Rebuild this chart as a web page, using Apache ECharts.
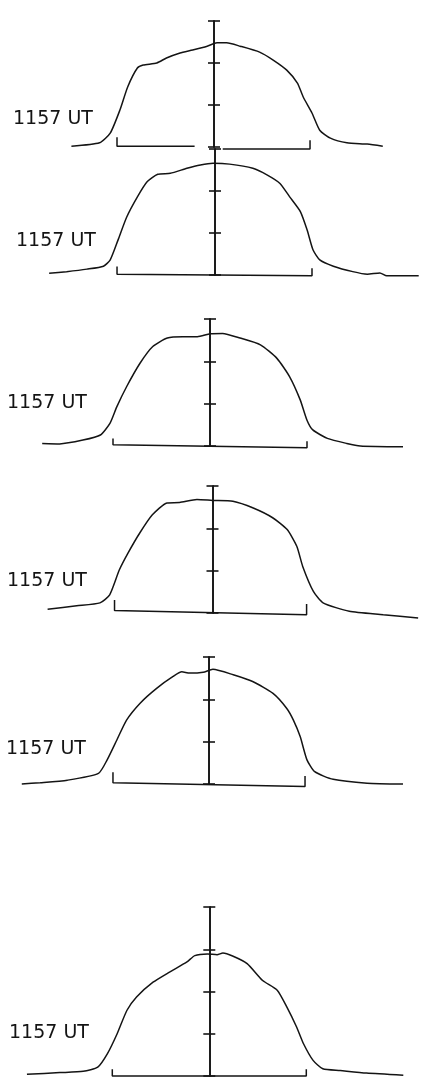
<!DOCTYPE html>
<html>
<head>
<meta charset="utf-8">
<script src="https://cdn.jsdelivr.net/npm/echarts@6/dist/echarts.min.js"></script>
<style>
	html, body { margin: 0; padding: 0; background: #fff; }
	#chart { width: 431px; height: 1077px; }
</style>
</head>
<body>
<div id="chart"></div>
<script>
// label text of every trace
const traceLabel = '1157 UT'

// x: distance from the centre line (bracket half width = 1), y: tick units above the bracket
const profile1 = [[-1.47, 0.02], [-1.18, 0.10], [-1.07, 0.33], [-0.97, 0.88], [-0.89, 1.43], [-0.79, 1.88], [-0.73, 1.95], [-0.59, 2.00], [-0.49, 2.12], [-0.35, 2.24], [-0.22, 2.31], [-0.07, 2.40], [0.03, 2.48], [0.13, 2.48], [0.27, 2.40], [0.47, 2.26], [0.61, 2.07], [0.75, 1.83], [0.86, 1.52], [0.92, 1.19], [1.01, 0.81], [1.09, 0.40], [1.20, 0.21], [1.37, 0.10], [1.58, 0.07], [1.74, 0.02]]
const profile2 = [[-1.71, 0.04], [-1.53, 0.08], [-1.32, 0.14], [-1.15, 0.21], [-1.08, 0.36], [-1.00, 0.83], [-0.91, 1.38], [-0.80, 1.86], [-0.70, 2.22], [-0.59, 2.40], [-0.46, 2.42], [-0.29, 2.54], [-0.15, 2.62], [-0.02, 2.66], [0.15, 2.64], [0.39, 2.54], [0.54, 2.38], [0.67, 2.18], [0.77, 1.86], [0.88, 1.51], [0.95, 1.07], [1.01, 0.60], [1.08, 0.36], [1.22, 0.21], [1.42, 0.08], [1.57, 0.02], [1.70, 0.05], [1.77, -0.02], [2.10, -0.02]]
const profile3 = [[-1.73, 0.06], [-1.55, 0.05], [-1.31, 0.14], [-1.13, 0.26], [-1.03, 0.54], [-0.96, 0.93], [-0.86, 1.40], [-0.72, 1.96], [-0.59, 2.35], [-0.44, 2.55], [-0.28, 2.58], [-0.13, 2.58], [0.00, 2.65], [0.13, 2.66], [0.31, 2.55], [0.52, 2.39], [0.69, 2.07], [0.82, 1.64], [0.93, 1.09], [1.00, 0.61], [1.06, 0.38], [1.21, 0.18], [1.41, 0.06], [1.55, 0.00], [1.99, -0.02]]
const profile4 = [[-1.70, 0.09], [-1.40, 0.17], [-1.16, 0.24], [-1.06, 0.43], [-0.96, 1.02], [-0.87, 1.42], [-0.75, 1.89], [-0.62, 2.32], [-0.47, 2.60], [-0.34, 2.61], [-0.16, 2.68], [0.00, 2.66], [0.21, 2.64], [0.42, 2.48], [0.62, 2.25], [0.77, 1.97], [0.87, 1.57], [0.93, 1.10], [1.04, 0.51], [1.14, 0.24], [1.41, 0.04], [1.76, -0.04], [2.12, -0.12]]
const profile5 = [[-1.93, 0.00], [-1.74, 0.03], [-1.46, 0.09], [-1.14, 0.25], [-1.05, 0.57], [-0.95, 1.04], [-0.85, 1.51], [-0.71, 1.91], [-0.54, 2.26], [-0.37, 2.54], [-0.28, 2.65], [-0.20, 2.62], [-0.06, 2.64], [0.04, 2.71], [0.25, 2.58], [0.45, 2.42], [0.66, 2.14], [0.80, 1.79], [0.87, 1.51], [0.94, 1.12], [1.01, 0.57], [1.09, 0.29], [1.28, 0.11], [1.63, 0.02], [2.00, 0.00]]
const profile6 = [[-1.88, 0.04], [-1.54, 0.08], [-1.30, 0.11], [-1.15, 0.21], [-1.05, 0.53], [-0.95, 1.00], [-0.85, 1.55], [-0.75, 1.87], [-0.58, 2.22], [-0.41, 2.46], [-0.23, 2.70], [-0.15, 2.85], [-0.02, 2.89], [0.08, 2.87], [0.14, 2.91], [0.24, 2.84], [0.39, 2.66], [0.55, 2.26], [0.70, 2.03], [0.80, 1.63], [0.90, 1.16], [0.97, 0.77], [1.07, 0.37], [1.17, 0.17], [1.35, 0.13], [1.62, 0.07], [2.00, 0.02]]
const profiles = [profile1, profile2, profile3, profile4, profile5, profile6]

// bracket under each trace
const bracketLeft = [-1.00, -1.01, -1.00, -1.01, -0.99, -1.00]
const bracketRight = [0.99, 1.00, 1.00, 0.97, 0.99, 1.00]
const bracketLeftY = [0.02, 0.02, 0.03, 0.06, 0.03, 0.00]
const bracketRightY = [-0.05, -0.02, -0.04, -0.04, -0.06, 0.00]
const bracketCap = [0.21, 0.18, 0.15, 0.25, 0.25, 0.16]
const bracketGap = [[-0.20, 0.09], null, null, null, null, null]

// top of the centre scale (ticks every unit)
const scaleTop = [3, 3, 3, 3, 3, 4]

// page layout of the panels (pixels)
const layout = [
	{ axisX: 214, top: 21, bottom: 147, labelX: 13, labelY: 119 },
	{ axisX: 215, top: 149, bottom: 275, labelX: 16, labelY: 241 },
	{ axisX: 210, top: 319, bottom: 446, labelX: 7, labelY: 403 },
	{ axisX: 212.5, top: 486, bottom: 613, labelX: 7, labelY: 581 },
	{ axisX: 209, top: 657, bottom: 784, labelX: 6, labelY: 749 },
	{ axisX: 209.3, top: 907, bottom: 1076, labelX: 9, labelY: 1033 }
]
const xMin = -2.1
const xMax = 2.2
const pxPerX = 97
const ink = '#141414'

const chart = echarts.init(document.getElementById('chart'))

const grids = []
const xAxes = []
const yAxes = []
const series = []
const texts = []

layout.forEach((p, i) => {
	grids.push({
		left: p.axisX + xMin * pxPerX,
		top: p.top,
		width: (xMax - xMin) * pxPerX,
		height: p.bottom - p.top
	})
	xAxes.push({ gridIndex: i, type: 'value', min: xMin, max: xMax, show: false })

	// two axes on the same line so the ticks cross it
	;['left', 'right'].forEach(pos => {
		yAxes.push({
			gridIndex: i,
			type: 'value',
			position: pos,
			min: 0,
			max: scaleTop[i],
			interval: 1,
			axisLine: { show: true, onZero: true, onZeroAxisIndex: i, lineStyle: { color: ink, width: 1.6 } },
			axisTick: { show: true, length: 6, lineStyle: { color: ink, width: 1.6 } },
			axisLabel: { show: false },
			splitLine: { show: false }
		})
	})

	series.push({
		type: 'line',
		xAxisIndex: i,
		yAxisIndex: i * 2,
		data: profiles[i],
		smooth: 0.2,
		showSymbol: false,
		clip: false,
		silent: true,
		lineStyle: { color: ink, width: 1.5 }
	})

	// bracket: caps up at both ends, with an optional break in the middle
	const br = [[bracketLeft[i], bracketLeftY[i] + bracketCap[i]], [bracketLeft[i], bracketLeftY[i]]]
	if (bracketGap[i]) {
		br.push([bracketGap[i][0], bracketLeftY[i]], ['-', '-'], [bracketGap[i][1], bracketRightY[i]])
	}
	br.push([bracketRight[i], bracketRightY[i]], [bracketRight[i], bracketRightY[i] + bracketCap[i]])
	series.push({
		type: 'line',
		xAxisIndex: i,
		yAxisIndex: i * 2,
		data: br,
		showSymbol: false,
		clip: false,
		silent: true,
		lineStyle: { color: ink, width: 1.5 }
	})

	texts.push({
		type: 'text',
		x: p.labelX,
		y: p.labelY,
		style: {
			text: traceLabel,
			fill: ink,
			font: '19px "DejaVu Sans"',
			verticalAlign: 'middle'
		}
	})
})

chart.setOption({
	animation: false,
	backgroundColor: '#fff',
	grid: grids,
	xAxis: xAxes,
	yAxis: yAxes,
	series: series,
	graphic: texts
})
</script>
</body>
</html>
